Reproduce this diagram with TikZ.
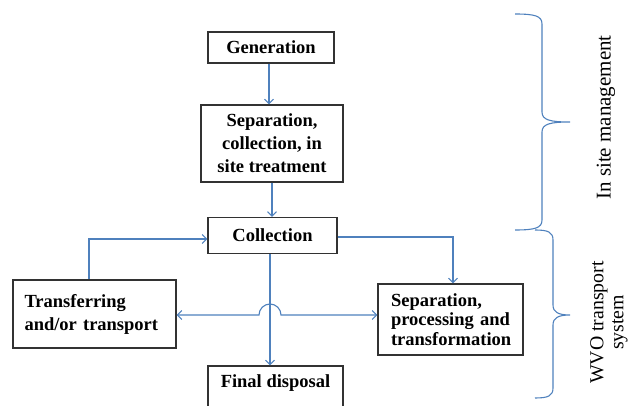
\documentclass[tikz,border=0pt]{standalone}
\usepackage{fontspec}
\setmainfont{Liberation Serif}
\usetikzlibrary{arrows.meta}
\definecolor{lineblue}{RGB}{79,129,189}
\definecolor{boxgray}{RGB}{50,50,50}
\tikzset{
  box/.style={draw=boxgray, line width=1.1pt, inner sep=0pt, font=\fontsize{18.5}{23}\selectfont\bfseries},
  flow/.style={draw=lineblue, line width=1.1pt, -{Straight Barb[length=4.5pt,width=9pt]}},
  flowboth/.style={draw=lineblue, line width=1.1pt, {Straight Barb[length=4.5pt,width=9pt]}-{Straight Barb[length=4.5pt,width=9pt]}},
  bracepath/.style={draw=lineblue, line width=1.1pt},
  sidetext/.style={rotate=90, align=center}
}
\begin{document}
\begin{tikzpicture}[x=1pt,y=-1pt]
\useasboundingbox (0,0) rectangle (630,406);
\clip (0,0) rectangle (630,406);
% boxes
\node[box, minimum width=126pt, minimum height=31pt] (gen) at (271,47.5) {Generation};
\node[box, minimum width=142pt, minimum height=77pt, align=center] (sep1) at (272,143.5) {Separation,\\collection, in\\site treatment};
\node[box, minimum width=129pt, minimum height=36pt] (coll) at (272.5,235.5) {Collection};
\node[box, minimum width=163pt, minimum height=68pt, text width=140pt, inner xsep=11.5pt, align=left] (trans) at (94.5,314) {Transferring\\and/or transport};
\node[box, minimum width=145pt, minimum height=71pt, text width=119pt, align=left, font=\fontsize{18.5}{19.5}\selectfont\bfseries] (sep2) at (450.5,319.5) {Separation,\\processing\hfill and\\transformation};
\node[box, minimum width=135pt, minimum height=52pt, text height=12pt, text depth=20pt] (final) at (275.5,392) {Final disposal};
% connectors
\draw[flow] (gen.south -| 269,0) -- (sep1.north -| 269,0);
\draw[flow] (sep1.south -| 272,0) -- (coll.north -| 272,0);
\draw[flow] (coll.south -| 270,0) -- (final.north -| 270,0);
\coordinate (cr) at (453,237);
\draw[flow] (coll.east |- cr) -- (cr) -- (sep2.north -| cr);
\coordinate (tl) at (89,239);
\draw[flow] (trans.north -| tl) -- (tl) -- (coll.west |- tl);
\coordinate (jl) at (259,315);
\draw[flowboth] (trans.east |- jl) -- (jl) arc[start angle=180, end angle=0, radius=11pt] -- (sep2.west |- jl);
% braces
\draw[bracepath] (515,14) .. controls (535,14) and (542,16) .. (542,24) -- (542,112)
  .. controls (542,120) and (550,122) .. (570,122)
  .. controls (550,122) and (542,124) .. (542,132) -- (542,220)
  .. controls (542,228) and (535,230) .. (515,230);
\draw[bracepath] (535,230) .. controls (548,230) and (553,232) .. (553,240) -- (553,305)
  .. controls (553,312) and (558,315) .. (570,315)
  .. controls (558,315) and (553,318) .. (553,325) -- (553,388)
  .. controls (553,396) and (548,398) .. (535,398);
% side labels
\node[sidetext, font=\fontsize{21}{22}\selectfont] (insite) at (606,117.5) {In site management};
\node[sidetext, font=\fontsize{19.8}{20}\selectfont] (wvo) at (609,322.5) {WVO transport\\system};
\end{tikzpicture}
\end{document}
